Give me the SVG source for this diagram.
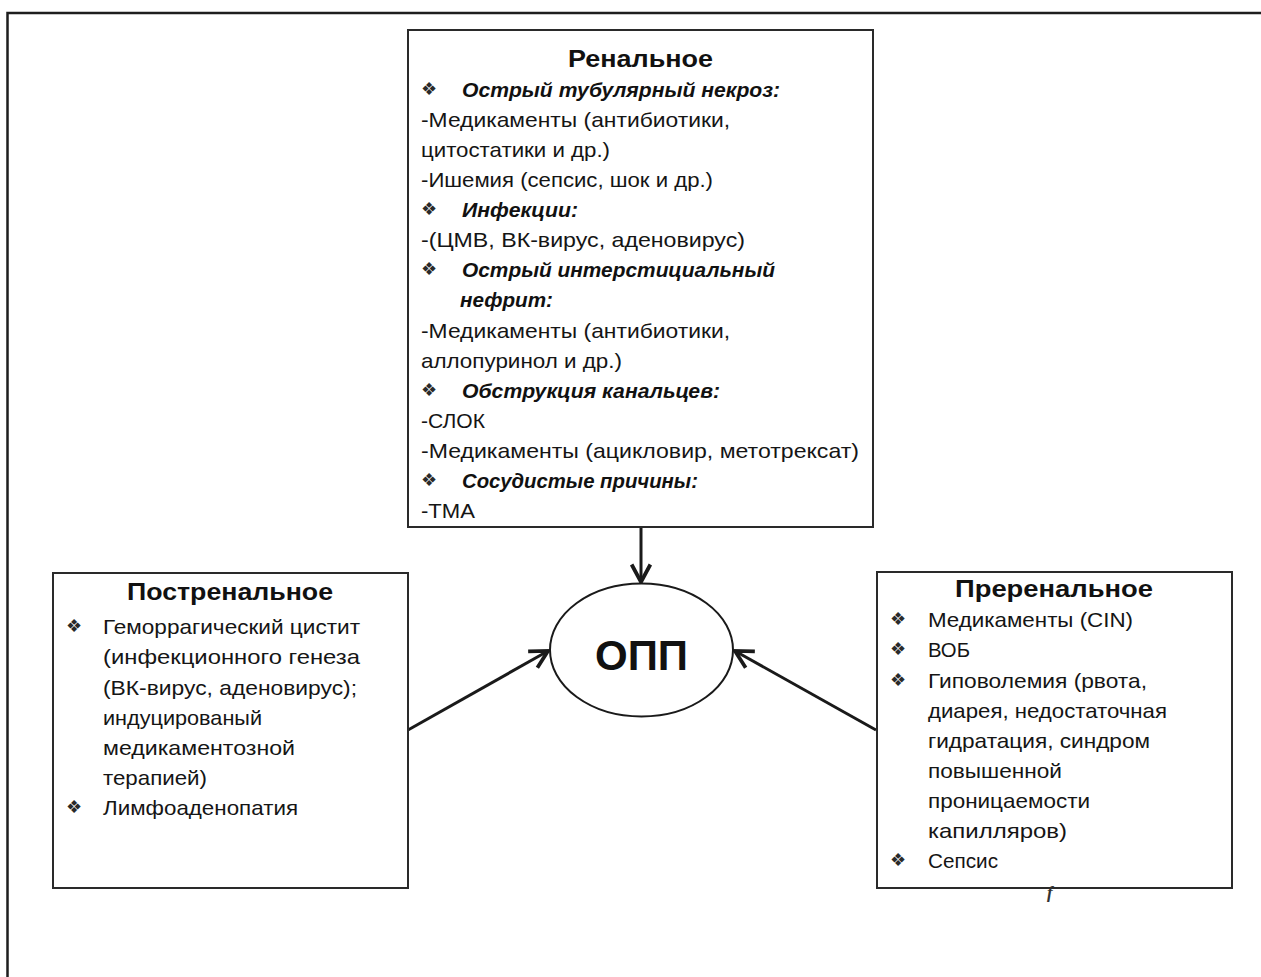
<svg xmlns="http://www.w3.org/2000/svg" width="1261" height="977" viewBox="0 0 1261 977">
  <style>
    .box { fill: #ffffff; stroke: #2a2a2a; stroke-width: 2; }
    .frame { fill: none; stroke: #1e1e1e; stroke-width: 2.5; }
    .title { font-family: "Liberation Sans", Arial, sans-serif; font-size: 24px; font-weight: bold; fill: #111; }
    .body { font-family: "Liberation Sans", Arial, sans-serif; font-size: 21px; fill: #151515; }
    .head { font-family: "Liberation Sans", Arial, sans-serif; font-size: 21px; font-weight: bold; font-style: italic; fill: #111; }
    .bul { font-family: "DejaVu Sans", sans-serif; font-size: 18px; fill: #2a2a2a; }
    .main { font-family: "Liberation Sans", Arial, sans-serif; font-size: 42px; font-weight: bold; fill: #111; }
    .conn { stroke: #1a1a1a; stroke-width: 3; fill: none; marker-end: url(#arrow); }
  </style>
  <defs>
    <marker id="arrow" markerUnits="userSpaceOnUse" markerWidth="30" markerHeight="30" viewBox="-20 -12 24 24" refX="0" refY="0" orient="auto">
      <path d="M-14,-7.5 L0,0 L-14,7.5" fill="none" stroke="#1a1a1a" stroke-width="3" stroke-linejoin="miter"/>
    </marker>
  </defs>

  <rect width="1261" height="977" fill="#ffffff"/>

  <!-- outer frame: top and left edges only -->
  <path class="frame" d="M7.5,977 V13 H1261"/>

  <!-- connectors -->
  <g id="connectors">
    <line class="conn" x1="641" y1="528" x2="641" y2="582"/>
    <line class="conn" x1="408" y1="730" x2="548" y2="651"/>
    <line class="conn" x1="876" y1="730" x2="735" y2="651"/>
  </g>

  <!-- renal causes -->
  <g id="renal">
    <rect class="box" x="408" y="30" width="465" height="497"/>
    <text class="title" x="568" y="67" textLength="145" lengthAdjust="spacingAndGlyphs">Ренальное</text>
    <text class="bul" x="421" y="95">&#x2756;&#xFE0E;</text>
    <text class="head" x="462" y="97" textLength="318" lengthAdjust="spacingAndGlyphs">Острый тубулярный некроз:</text>
    <text class="body" x="421" y="127" textLength="309" lengthAdjust="spacingAndGlyphs">-Медикаменты (антибиотики,</text>
    <text class="body" x="421" y="157" textLength="189" lengthAdjust="spacingAndGlyphs">цитостатики и др.)</text>
    <text class="body" x="421" y="187" textLength="292" lengthAdjust="spacingAndGlyphs">-Ишемия (сепсис, шок и др.)</text>
    <text class="bul" x="421" y="215">&#x2756;&#xFE0E;</text>
    <text class="head" x="462" y="217" textLength="116" lengthAdjust="spacingAndGlyphs">Инфекции:</text>
    <text class="body" x="421" y="247" textLength="324" lengthAdjust="spacingAndGlyphs">-(ЦМВ, ВК-вирус, аденовирус)</text>
    <text class="bul" x="421" y="275">&#x2756;&#xFE0E;</text>
    <text class="head" x="462" y="277" textLength="313" lengthAdjust="spacingAndGlyphs">Острый интерстициальный</text>
    <text class="head" x="460" y="307" textLength="93" lengthAdjust="spacingAndGlyphs">нефрит:</text>
    <text class="body" x="421" y="338" textLength="309" lengthAdjust="spacingAndGlyphs">-Медикаменты (антибиотики,</text>
    <text class="body" x="421" y="368" textLength="201" lengthAdjust="spacingAndGlyphs">аллопуринол и др.)</text>
    <text class="bul" x="421" y="396">&#x2756;&#xFE0E;</text>
    <text class="head" x="462" y="398" textLength="258" lengthAdjust="spacingAndGlyphs">Обструкция канальцев:</text>
    <text class="body" x="421" y="428" textLength="64" lengthAdjust="spacingAndGlyphs">-СЛОК</text>
    <text class="body" x="421" y="458" textLength="438" lengthAdjust="spacingAndGlyphs">-Медикаменты (ацикловир, метотрексат)</text>
    <text class="bul" x="421" y="486">&#x2756;&#xFE0E;</text>
    <text class="head" x="462" y="488" textLength="236" lengthAdjust="spacingAndGlyphs">Сосудистые причины:</text>
    <text class="body" x="421" y="518" textLength="54" lengthAdjust="spacingAndGlyphs">-ТМА</text>
  </g>

  <!-- postrenal causes -->
  <g id="postrenal">
    <rect class="box" x="53" y="573" width="355" height="315"/>
    <text class="title" x="127" y="600" textLength="206" lengthAdjust="spacingAndGlyphs">Постренальное</text>
    <text class="bul" x="66" y="632">&#x2756;&#xFE0E;</text>
    <text class="body" x="103" y="634" textLength="257" lengthAdjust="spacingAndGlyphs">Геморрагический цистит</text>
    <text class="body" x="103" y="664" textLength="257" lengthAdjust="spacingAndGlyphs">(инфекционного генеза</text>
    <text class="body" x="103" y="695" textLength="254" lengthAdjust="spacingAndGlyphs">(ВК-вирус, аденовирус);</text>
    <text class="body" x="103" y="725" textLength="159" lengthAdjust="spacingAndGlyphs">индуцированый</text>
    <text class="body" x="103" y="755" textLength="192" lengthAdjust="spacingAndGlyphs">медикаментозной</text>
    <text class="body" x="103" y="785" textLength="104" lengthAdjust="spacingAndGlyphs">терапией)</text>
    <text class="bul" x="66" y="813">&#x2756;&#xFE0E;</text>
    <text class="body" x="103" y="815" textLength="195" lengthAdjust="spacingAndGlyphs">Лимфоаденопатия</text>
  </g>

  <!-- central node -->
  <g id="opp">
    <ellipse cx="641.5" cy="650" rx="91.5" ry="66.5" fill="#ffffff" stroke="#1a1a1a" stroke-width="2"/>
    <text class="main" x="641.5" y="670" text-anchor="middle">ОПП</text>
  </g>

  <!-- prerenal causes -->
  <g id="prerenal">
    <rect class="box" x="877" y="572" width="355" height="316"/>
    <text class="title" x="955" y="597" textLength="198" lengthAdjust="spacingAndGlyphs">Преренальное</text>
    <text class="bul" x="890" y="625">&#x2756;&#xFE0E;</text>
    <text class="body" x="928" y="627" textLength="205" lengthAdjust="spacingAndGlyphs">Медикаменты (CIN)</text>
    <text class="bul" x="890" y="655">&#x2756;&#xFE0E;</text>
    <text class="body" x="928" y="657" textLength="42" lengthAdjust="spacingAndGlyphs">ВОБ</text>
    <text class="bul" x="890" y="686">&#x2756;&#xFE0E;</text>
    <text class="body" x="928" y="688" textLength="219" lengthAdjust="spacingAndGlyphs">Гиповолемия (рвота,</text>
    <text class="body" x="928" y="718" textLength="239" lengthAdjust="spacingAndGlyphs">диарея, недостаточная</text>
    <text class="body" x="928" y="748" textLength="222" lengthAdjust="spacingAndGlyphs">гидратация, синдром</text>
    <text class="body" x="928" y="778" textLength="134" lengthAdjust="spacingAndGlyphs">повышенной</text>
    <text class="body" x="928" y="808" textLength="162" lengthAdjust="spacingAndGlyphs">проницаемости</text>
    <text class="body" x="928" y="838" textLength="139" lengthAdjust="spacingAndGlyphs">капилляров)</text>
    <text class="bul" x="890" y="866">&#x2756;&#xFE0E;</text>
    <text class="body" x="928" y="868" textLength="70" lengthAdjust="spacingAndGlyphs">Сепсис</text>
    <text x="1047" y="898" font-family="Liberation Serif, serif" font-style="italic" font-weight="bold" font-size="17" fill="#333">f</text>
  </g>
</svg>
